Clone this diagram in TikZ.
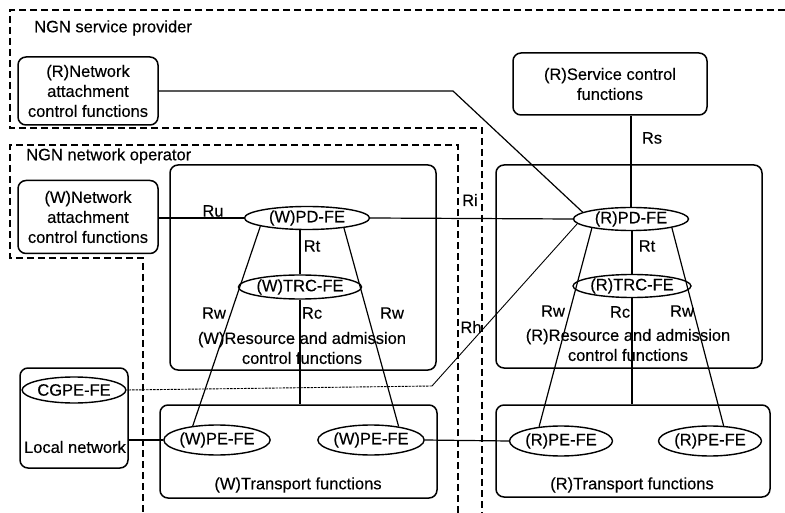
\documentclass[tikz,border=0pt]{standalone}
\usepackage{fontspec}
\setmainfont{Liberation Sans}[FakeBold=0.3]
\usetikzlibrary{shapes.geometric}
\begin{document}
\begin{tikzpicture}[x=1pt,y=-1pt,
  every node/.style={font=\fontsize{16.5}{20}\selectfont},
  fbox/.style={draw, rounded corners=8pt, line width=1.5pt, inner sep=0pt, align=center},
  fe/.style={draw, ellipse, line width=1.4pt, inner sep=0pt},
  link/.style={line width=1.2pt},
  thinlink/.style={line width=0.9pt},
  dotlink/.style={line width=0.9pt, dash pattern=on 2.5pt off 1pt},
  region/.style={line width=1.2pt, dash pattern=on 7pt off 4pt},
  lbl/.style={inner sep=0pt}]
\useasboundingbox (0,0) rectangle (785,513);

% administrative domains
\draw[region] (785,10) -- (10,10) -- (10,128) -- (482,128) -- (482,513);
\draw[region] (458,513) -- (458,145) -- (10,145) -- (10,258) -- (143,258) -- (143,513);
\node[lbl, anchor=west] (spname) at (34,28) {NGN service provider};
\node[lbl, anchor=west] (opname) at (26,156) {NGN network operator};

% functional blocks
\node[fbox, minimum width=140pt, minimum height=68pt] (rnacf) at (88,91) {(R)Network\\attachment\\control functions};
\node[fbox, minimum width=140pt, minimum height=73pt] (wnacf) at (88,217) {(W)Network\\attachment\\control functions};
\node[fbox, minimum width=194pt, minimum height=62pt] (rscf) at (610,84) {(R)Service control\\functions};
\node[fbox, minimum width=266pt, minimum height=205pt] (wracf) at (303,267.5) {};
\node[fbox, minimum width=266pt, minimum height=203pt] (rracf) at (629,266.5) {};
\node[fbox, minimum width=108pt, minimum height=100pt] (local) at (74,418) {};
\node[fbox, minimum width=277pt, minimum height=93pt] (wtf) at (298.5,451.5) {};
\node[fbox, minimum width=274pt, minimum height=92pt] (rtf) at (633,451) {};

% block captions
\node[lbl, align=center] (wracft) at (302,348) {(W)Resource and admission\\control functions};
\node[lbl, align=center] (rracft) at (628,345) {(R)Resource and admission\\control functions};
\node[lbl] (localt) at (75,447) {Local network};
\node[lbl] (wtft) at (298,485) {(W)Transport functions};
\node[lbl] (rtft) at (632,485) {(R)Transport functions};

% functional entities
\node[fe, minimum width=125pt, minimum height=23pt] (wpd) at (307,218) {(W)PD-FE};
\node[fe, minimum width=115pt, minimum height=23pt] (rpd) at (631,219) {(R)PD-FE};
\node[fe, minimum width=120pt, minimum height=24pt] (wtrc) at (300,287) {(W)TRC-FE};
\node[fe, minimum width=107pt, minimum height=23pt] (rtrc) at (632,286) {(R)TRC-FE};
\node[fe, minimum width=88pt, minimum height=26pt] (cgpe) at (74,390) {CGPE-FE};
\node[fe, minimum width=100pt, minimum height=30pt] (wpe1) at (217,440) {(W)PE-FE};
\node[fe, minimum width=103pt, minimum height=30pt] (wpe2) at (371,440) {(W)PE-FE};
\node[fe, minimum width=103pt, minimum height=30pt] (rpe1) at (561,441) {(R)PE-FE};
\node[fe, minimum width=103pt, minimum height=30pt] (rpe2) at (710,441) {(R)PE-FE};

% bend points
\coordinate (nabend) at (453,91);
\coordinate (rhbend) at (432,386);

% reference points
\draw[link] (rnacf.east) -- (nabend) -- (rpd.172);
\draw[link] (wnacf.east |- wpd.west) -- (wpd.west);
\draw[link] (wpd.east) -- (rpd.west);
\draw[link] (rpd.north) -- (rpd.north |- rscf.south);
\draw[link] (wtrc.north) -- (wtrc.north |- wpd.south);
\draw[link] (wtrc.south) -- (wtrc.south |- wtf.north);
\draw[link] (rtrc.north) -- (rtrc.north |- rpd.south);
\draw[link] (rtrc.south) -- (rtrc.south |- rtf.north);
\draw[link] (wpd.190) -- (wpe1.150);
\draw[link] (wpd.345) -- (wpe2.26);
\draw[link] (rpd.193) -- (rpe1.147);
\draw[link] (rpd.348) -- (rpe2.48);
\draw[thinlink] (rpd.185) -- (rhbend);
\draw[dotlink] (rhbend) -- (cgpe.east);
\draw[link] (local.east |- wpe1.west) -- (wpe1.west);
\draw[link] (wpe2.east) -- (rpe1.west);

% reference point labels
\node[lbl] (ru) at (213,211) {Ru};
\node[lbl] (ri) at (470,200) {Ri};
\node[lbl] (rs) at (652,138) {Rs};
\node[lbl] (wrt) at (312,246) {Rt};
\node[lbl] (rrt) at (647,246) {Rt};
\node[lbl] (wrc) at (312,313) {Rc};
\node[lbl] (rrc) at (620,312) {Rc};
\node[lbl] (wrw1) at (214,313) {Rw};
\node[lbl] (wrw2) at (392,313) {Rw};
\node[lbl] (rrw1) at (553,311) {Rw};
\node[lbl] (rrw2) at (682,311) {Rw};
\node[lbl] (rh) at (471,327) {Rh};
\end{tikzpicture}
\end{document}
